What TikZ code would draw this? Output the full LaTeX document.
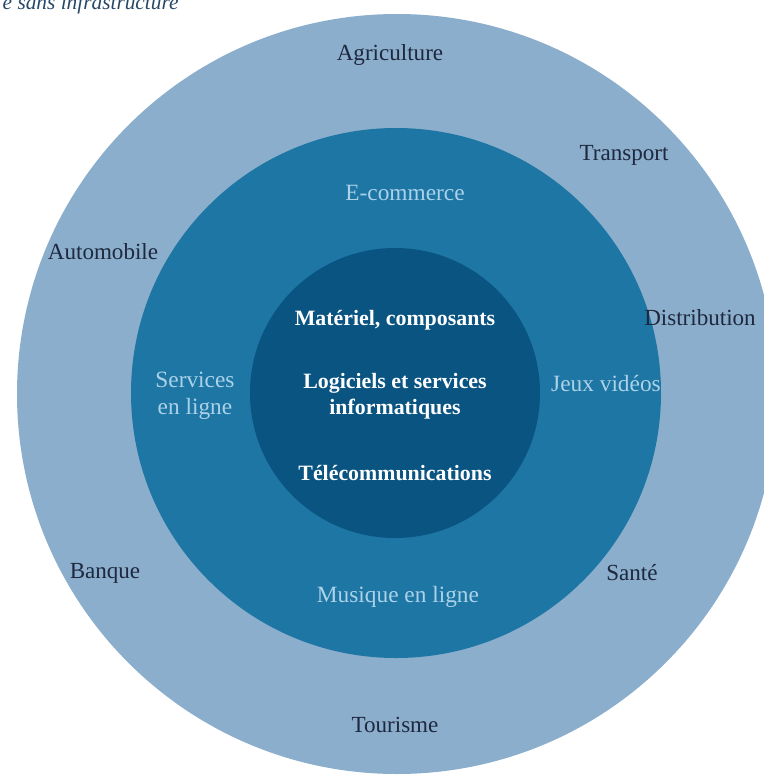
\documentclass[tikz,border=0pt]{standalone}
\usepackage{fontspec}
\setmainfont{Liberation Serif}
\usepackage{xcolor}
\usepackage{tikz}
\usetikzlibrary{positioning}

\definecolor{outerblue}{RGB}{139,174,204}
\definecolor{midblue}{RGB}{29,118,163}
\definecolor{innerblue}{RGB}{10,84,130}
\definecolor{darktext}{RGB}{30,40,62}
\definecolor{lighttext}{RGB}{172,210,234}
\definecolor{titletext}{RGB}{40,72,104}

\begin{document}
\begin{tikzpicture}[x=0.75pt, y=-0.75pt,
  outerlabel/.style={text=darktext, font=\fontsize{17.3}{19}\selectfont},
  midlabel/.style={text=lighttext, font=\fontsize{17.5}{20}\selectfont, align=center},
  innerlabel/.style={text=white, font=\bfseries\fontsize{16.4}{19.5}\selectfont, align=center}]
\useasboundingbox (0,0) rectangle (764,776);

% rings
\fill[outerblue] (397,394) circle (380);
\fill[midblue] (396,393) circle (265);
\fill[innerblue] (395,393) circle (145);

\node[anchor=base west, text=titletext, font=\itshape\fontsize{16}{18}\selectfont] at (-2,9) (title) {e sans infrastructure};

% outer ring
\node[outerlabel] at (390,55) (agri) {Agriculture};
\node[outerlabel] at (624,155) (transport) {Transport};
\node[outerlabel] at (103,252) (auto) {Automobile};
\node[outerlabel] at (700,318) (distrib) {Distribution};
\node[outerlabel] at (105,573) (banque) {Banque};
\node[outerlabel] at (632,573) (sante) {Santé};
\node[outerlabel] at (395,725) (tourisme) {Tourisme};

% middle ring
\node[midlabel] at (405,193) (ecom) {E-commerce};
\node[midlabel] at (195,396) (services) {Services\\en ligne};
\node[midlabel] at (606,383) (jeux) {Jeux vidéos};
\node[midlabel] at (398,597) (musique) {Musique en ligne};

% inner circle
\node[innerlabel] at (395,320) (materiel) {Matériel, composants};
\node[innerlabel] at (395,396) (logiciels) {Logiciels et services\\informatiques};
\node[innerlabel] at (395,473) (telecom) {Télécommunications};

\end{tikzpicture}
\end{document}
